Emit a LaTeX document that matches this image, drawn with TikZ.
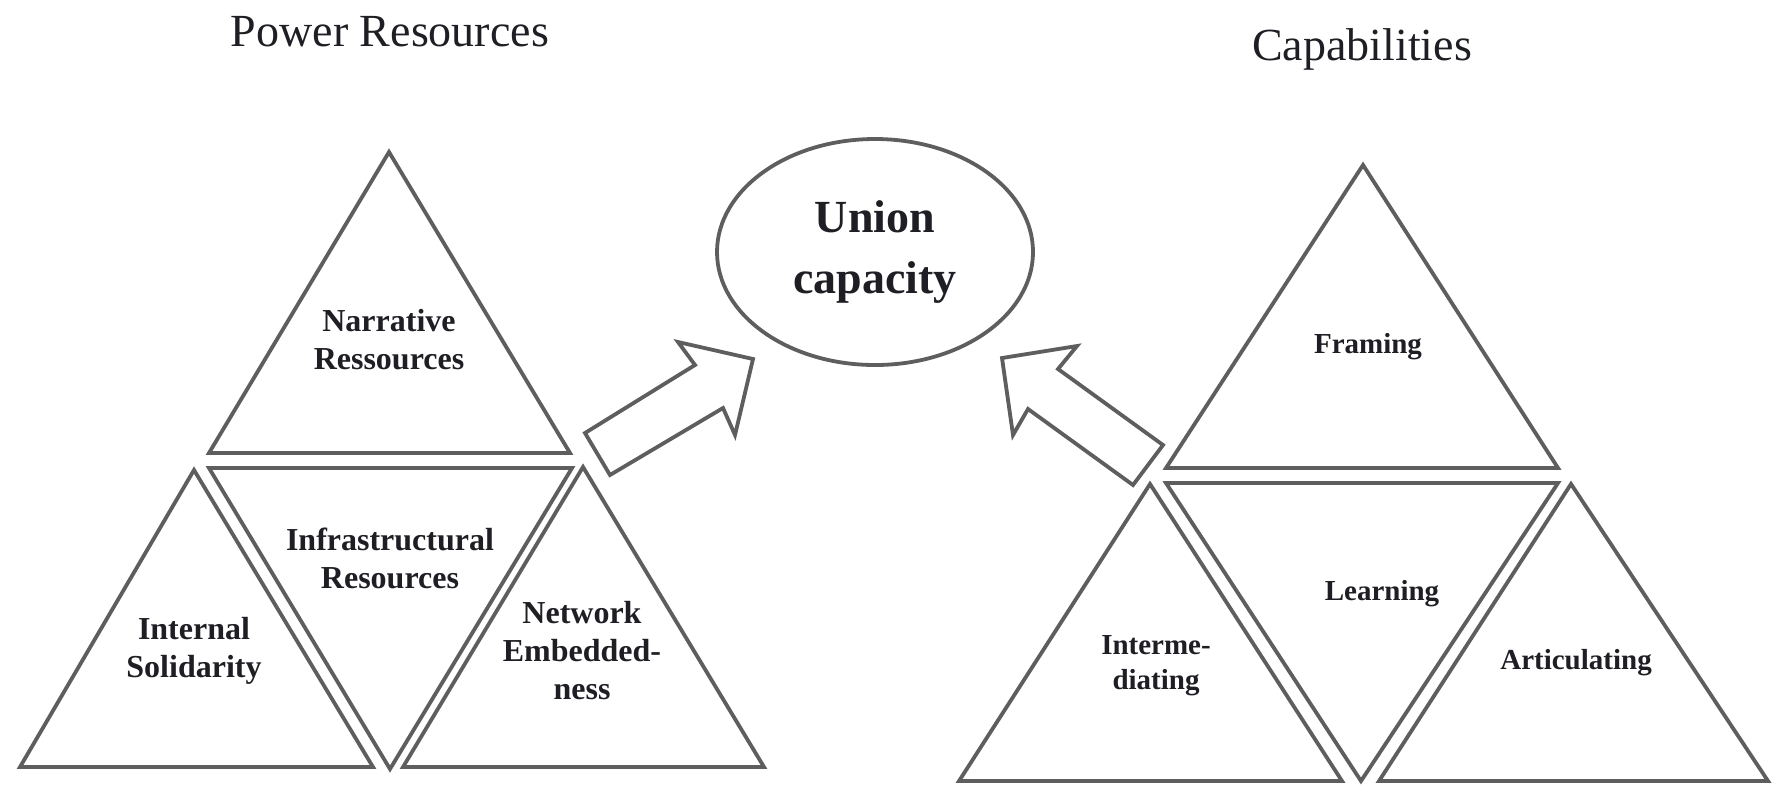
\documentclass[tikz,border=0pt]{standalone}
\usepackage{fontspec}
\setmainfont{Liberation Serif}
\usetikzlibrary{shapes.geometric}
\definecolor{edge}{HTML}{5E5E5E}
\definecolor{ink}{HTML}{1E1E24}
\tikzset{
  tri/.style={draw=edge,line width=1.9pt,line join=miter},
  blockarrow/.style={draw=edge,line width=1.9pt,line join=miter},
  lbl/.style={text=ink,font=\bfseries\fontsize{16}{19}\selectfont,align=center,inner sep=0pt},
  rlbl/.style={text=ink,font=\bfseries\fontsize{14.5}{17.5}\selectfont,align=center,inner sep=0pt},
  heading/.style={text=ink,font=\fontsize{23}{27}\selectfont,anchor=base,inner sep=0pt},
}
\begin{document}
\begin{tikzpicture}[x=0.5pt,y=-0.5pt]
\useasboundingbox (0,0) rectangle (1775,784);

% headings
\node[heading] (hpow) at (390,46) {Power Resources};
\node[heading] (hcap) at (1362,60) {Capabilities};

% union capacity
\node[ellipse,draw=edge,line width=1.9pt,minimum width=158pt,minimum height=113pt,inner sep=0pt,
      text=ink,font=\bfseries\fontsize{23}{30.5}\selectfont,align=center] (uc) at (875,252) {Union\\capacity};

% left group
\draw[tri] (389,152) -- (570,453) -- (209,453) -- cycle;
\draw[tri] (209,468) -- (572,468) -- (390,769) -- cycle;
\draw[tri] (194,470) -- (373,767) -- (20,767) -- cycle;
\draw[tri] (583,467) -- (764,767) -- (403,767) -- cycle;
\node[lbl] (nar) at (389,340) {Narrative\\Ressources};
\node[lbl] (inf) at (390,558) {Infrastructural\\Resources};
\node[lbl] (sol) at (194,651) {Internal\\Solidarity};
\node[lbl] (net) at (582,651) {Network\\Embedded-\\ness};

% right group
\draw[tri] (1363,165) -- (1558,468) -- (1166,468) -- cycle;
\draw[tri] (1166,483) -- (1558,483) -- (1361,781) -- cycle;
\draw[tri] (1150,484) -- (1342,781) -- (959,781) -- cycle;
\draw[tri] (1571,484) -- (1768,781) -- (1379,781) -- cycle;
\node[rlbl] (fra) at (1368,347) {Framing};
\node[rlbl] (lea) at (1382,594) {Learning};
\node[rlbl] (imd) at (1156,666) {Interme-\\diating};
\node[rlbl] (art) at (1576,663) {Articulating};

% block arrows
\draw[blockarrow] (585,433) -- (695,365) -- (678,342) -- (753,359) -- (735,435) -- (723,408) -- (610,475) -- cycle;
\draw[blockarrow] (1002,358) -- (1077,346) -- (1058,369) -- (1163,445) -- (1133,485) -- (1028,409) -- (1013,435) -- cycle;
\end{tikzpicture}
\end{document}
